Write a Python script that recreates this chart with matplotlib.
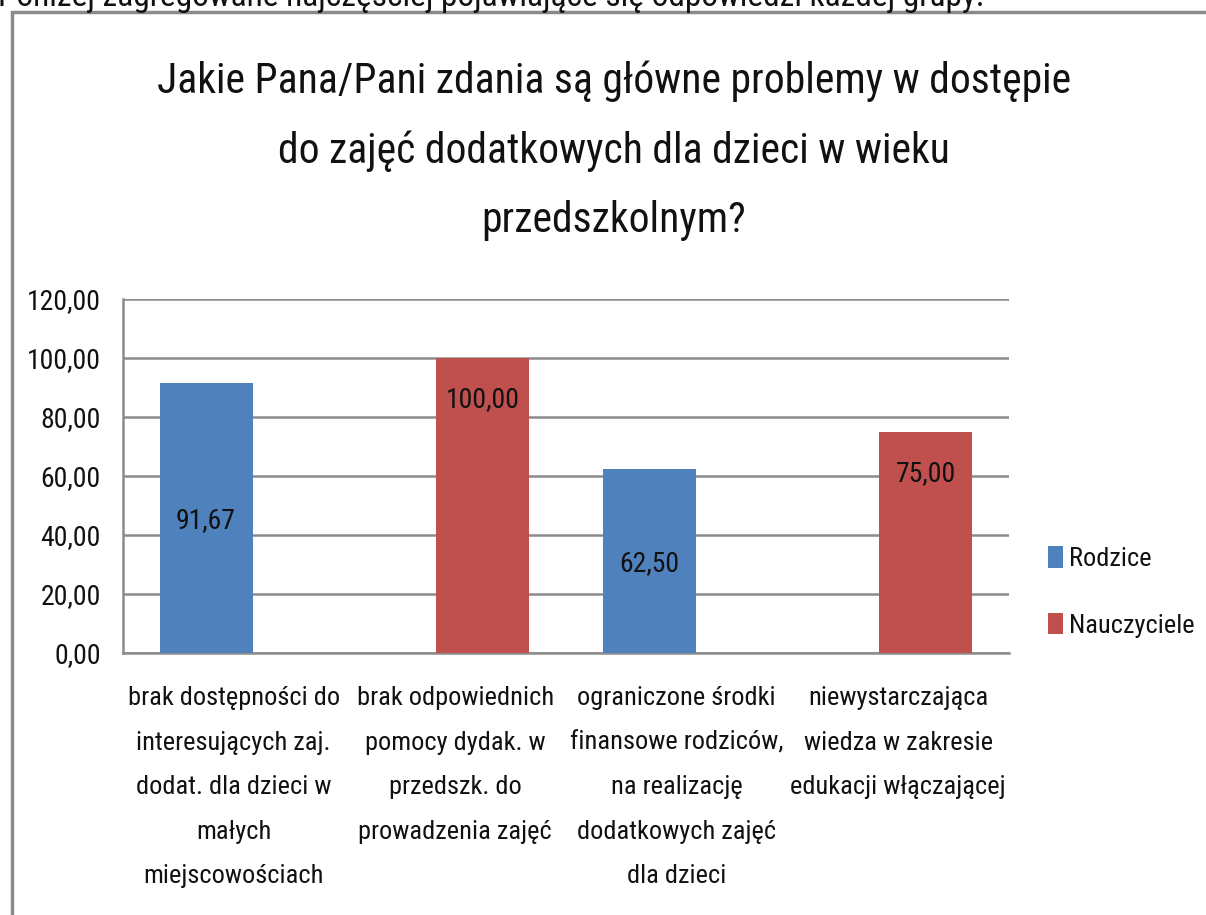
import matplotlib
matplotlib.use("Agg")
import matplotlib.pyplot as plt
from matplotlib import font_manager as fm
from matplotlib.patches import Rectangle
import numpy as np

# pick a narrow font if one is installed
def pick_narrow():
    prefs = ["liberationsansnarrow-regular", "robotocondensed-regular", "opensans_condensed-regular",
             "opensanscondensed-regular", "notosans-condensed", "dejavusanscondensed.ttf",
             "notosans-semicondensed", "roboto_condensed-regular"]
    entries = fm.fontManager.ttflist
    for p in prefs:
        for e in entries:
            fn = e.fname.lower().split("/")[-1].replace(" ", "")
            if fn.startswith(p):
                return e.fname
    for e in entries:
        fn = e.fname.lower()
        if ("narrow" in fn or "condensed" in fn) and "bold" not in fn and "italic" not in fn \
                and "light" not in fn and "oblique" not in fn and "thin" not in fn \
                and "black" not in fn and "medium" not in fn and "extra" not in fn and "semi" not in fn:
            return e.fname
    return None

_narrow = pick_narrow()
if _narrow:
    fm.fontManager.addfont(_narrow)
    _name = fm.FontProperties(fname=_narrow).get_name()
    plt.rcParams['font.family'] = [_name, 'DejaVu Sans']
else:
    plt.rcParams['font.family'] = ['Liberation Sans', 'DejaVu Sans']

categories = [
    "brak dostępności do\ninteresujących zaj.\ndodat. dla dzieci w\nmałych\nmiejscowościach",
    "brak odpowiednich\npomocy dydak. w\nprzedszk. do\nprowadzenia zajęć",
    "ograniczone środki\nfinansowe rodziców,\nna realizację\ndodatkowych zajęć\ndla dzieci",
    "niewystarczająca\nwiedza w zakresie\nedukacji włączającej",
]
rodzice = [91.67, 0, 62.50, 0]
nauczyciele = [0, 100.00, 0, 75.00]
series_names = ["Rodzice", "Nauczyciele"]
yticks = [0, 20, 40, 60, 80, 100, 120]
title = "Jakie Pana/Pani zdania są główne problemy w dostępie\ndo zajęć dodatkowych dla dzieci w wieku\nprzedszkolnym?"
intro = "Poniżej zagregowane najczęściej pojawiające się odpowiedzi każdej grupy."

W, H = 1206, 915
fig = plt.figure(figsize=(W / 100, H / 100), dpi=100)

fig.text(-2 / W, 1 - 6 / H, intro, fontsize=24, color="#111111", ha="left", va="baseline")

fig.patches.append(Rectangle((12 / W, -0.1), 1.2, 1 - 12 / H + 0.1, transform=fig.transFigure,
                             fill=False, edgecolor="#8a8a8a", linewidth=2.5))

ax = fig.add_axes([123 / W, (H - 653) / H, (1009 - 123) / W, (653 - 299) / H])
x = np.arange(len(categories))
bw = 0.42
off = 0.125
blue = "#4f81bd"
red = "#c0504d"
b1 = ax.bar(x - off, rodzice, bw, color=blue, label=series_names[0], zorder=3)
b2 = ax.bar(x + off, nauczyciele, bw, color=red, label=series_names[1], zorder=3)

for rect, v in zip(b1, rodzice):
    if v > 0:
        ax.annotate(f"{v:.2f}".replace(".", ","), (rect.get_x() + rect.get_width() / 2, v / 2),
                    xytext=(0, -2), textcoords="offset points",
                    ha="center", va="center", fontsize=20, color="#111111", zorder=4)
for rect, v in zip(b2, nauczyciele):
    if v > 0:
        ax.annotate(f"{v:.2f}".replace(".", ","), (rect.get_x() + rect.get_width() / 2, v),
                    xytext=(0, -30), textcoords="offset points",
                    ha="center", va="center", fontsize=20, color="#111111", zorder=4)

ax.set_xlim(-0.5, 3.5)
ax.set_ylim(0, 120)
ax.set_yticks(yticks)
ax.set_yticklabels([f"{t:.2f}".replace(".", ",") for t in yticks], fontsize=20, color="#111111")
ax.set_xticks(x)
ax.set_xticklabels(categories, fontsize=19, color="#111111", linespacing=2.08)
ax.tick_params(axis="x", length=0, pad=24)
ax.tick_params(axis="y", length=0, pad=16)
ax.yaxis.grid(True, color="#8c8c8c", linewidth=1.8, zorder=0)
for s in ["top", "right"]:
    ax.spines[s].set_visible(False)
for s in ["left", "bottom"]:
    ax.spines[s].set_color("#8c8c8c")
    ax.spines[s].set_linewidth(1.8)

leg = ax.legend(loc="center left", bbox_to_anchor=(1048 / W, (H - 592) / H),
                bbox_transform=fig.transFigure, frameon=False, fontsize=19,
                handlelength=0.58, handleheight=0.85, handletextpad=0.2, labelspacing=1.58,
                borderaxespad=0, borderpad=0)
for t in leg.get_texts():
    t.set_color("#111111")

fig.text(614 / W, (H - 151) / H, title, ha="center", va="center", fontsize=30,
         color="#111111", linespacing=1.88)

fig.savefig("out.png", dpi=100)
